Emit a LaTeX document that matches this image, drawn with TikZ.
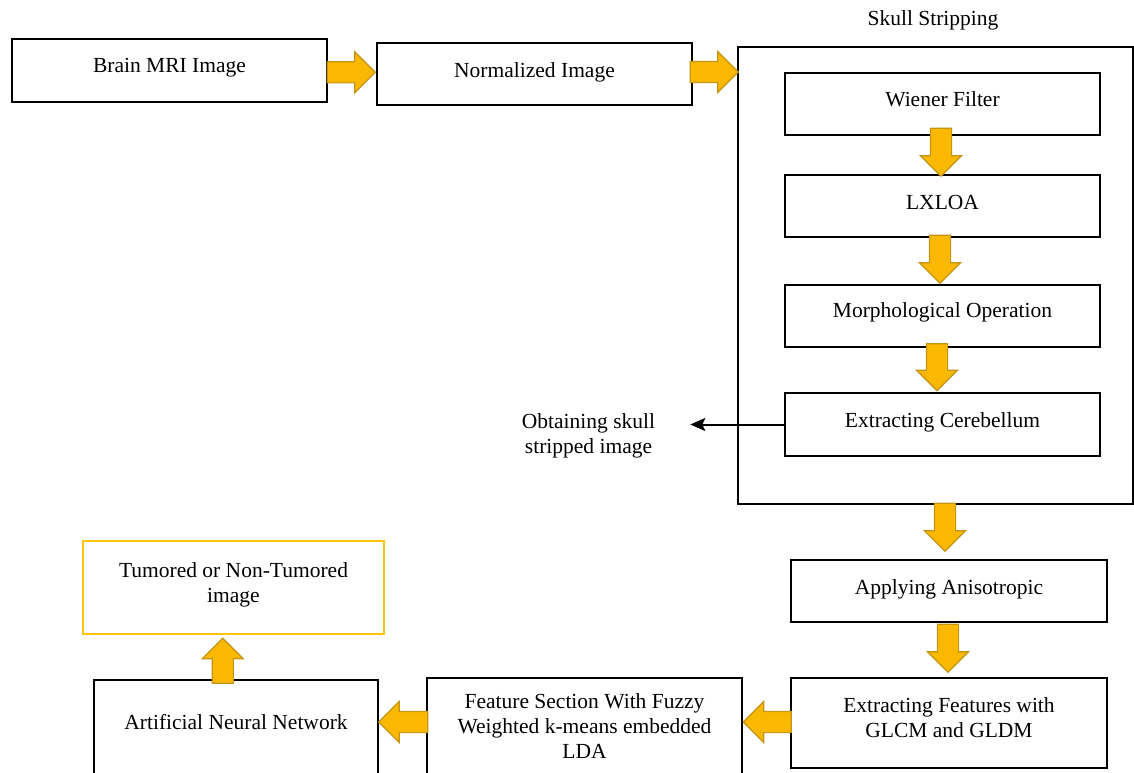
\documentclass[tikz,border=0pt]{standalone}
\usepackage{fontspec}
\setmainfont{Liberation Serif}
\usetikzlibrary{shapes.arrows,calc,arrows.meta}
\definecolor{arrfill}{RGB}{250,185,0}
\definecolor{arrdraw}{RGB}{196,148,20}
\definecolor{outbox}{RGB}{255,195,10}
\begin{document}
\begin{tikzpicture}[x=1pt,y=-1pt,
  box/.style={draw=black, line width=2.2pt, inner sep=0pt, fill=white},
  lbl/.style={font=\fontsize{21.5}{25}\selectfont, align=center, inner sep=0pt},
  lblone/.style={lbl, text height=15pt, text depth=5pt},
  barrow/.style={single arrow, draw=arrdraw, fill=arrfill, line width=1.2pt,
    minimum width=40pt, single arrow head extend=10pt, single arrow tip angle=90,
    single arrow head indent=0pt, inner xsep=0pt, inner ysep=10pt, minimum height=#1},
  barrow/.default=48pt,
  thinarrow/.style={draw=black, line width=2pt, -{Stealth[length=15pt,width=13pt,inset=3pt]}}]
\useasboundingbox (0,0) rectangle (1134,772);
\clip (0,0) rectangle (1134,772);

% boxes
\node[box, minimum width=315pt, minimum height=63pt] (bm) at (169.5,70.5) {};
\node[box, minimum width=315pt, minimum height=62pt] (nm) at (534.5,74) {};
\node[box, minimum width=395pt, minimum height=457pt] (ss) at (935.5,275.5) {};
\node[box, minimum width=315pt, minimum height=62pt] (wf) at (942.5,104) {};
\node[box, minimum width=315pt, minimum height=62pt] (lx) at (942.5,206) {};
\node[box, minimum width=315pt, minimum height=62pt] (mo) at (942.5,316) {};
\node[box, minimum width=315pt, minimum height=63pt] (ec) at (942.5,424.5) {};
\node[box, minimum width=316pt, minimum height=62pt] (ap) at (949,591) {};
\node[box, minimum width=316pt, minimum height=90pt] (ef) at (949,723) {};
\node[box, minimum width=315pt, minimum height=98pt] (fs) at (584.5,727) {};
\node[box, minimum width=284pt, minimum height=96pt] (ann) at (236,728) {};
\node[box, draw=outbox, minimum width=301pt, minimum height=93pt] (out) at (233.5,587.5) {};

% texts
\node[lblone] (bmt) at ([yshift=3.5pt]bm.center) {Brain MRI Image};
\node[lblone] (nmt) at ([yshift=2pt]nm.center) {Normalized Image};
\node[lblone] (sst) at (933,20) {Skull Stripping};
\node[lblone] (wft) at ([yshift=3pt]wf.center) {Wiener Filter};
\node[lblone] (lxt) at ([yshift=2pt]lx.center) {LXLOA};
\node[lblone] (mot) at ([yshift=4pt]mo.center) {Morphological Operation};
\node[lblone] (ect) at ([yshift=2.5pt]ec.center) {Extracting Cerebellum};
\node[lblone] (apt) at ([yshift=2pt]ap.center) {Applying Anisotropic};
\node[lbl] (eft) at ([yshift=5.5pt]ef.center) {Extracting Features with\\GLCM and GLDM};
\node[lbl] (fst) at ([yshift=0.5pt]fs.center) {Feature Section With Fuzzy\\Weighted k-means embedded\\LDA};
\node[lblone] (annt) at ([yshift=4pt]ann.center) {Artificial Neural Network};
\node[lbl] (outt) at ([yshift=2.7pt]out.center) {Tumored or Non-Tumored\\image};
\node[lbl] (ob) at (588.5,436) {Obtaining skull\\stripped image};

% block arrows
\node[barrow] (a1) at ([xshift=-6pt]$(bm.east)!0.5!(nm.west)$) {};
\node[barrow] (a2) at ([xshift=-6pt,yshift=2pt]$(nm.east)!0.5!(nm.east -| ss.west)$) {};
\node[barrow, rotate=-90] (a3) at ([xshift=-1.5pt,yshift=8pt]$(wf.south)!0.5!(lx.north)$) {};
\node[barrow, rotate=-90] (a4) at ([xshift=-2.5pt,yshift=7pt]$(lx.south)!0.5!(mo.north)$) {};
\node[barrow=47pt, rotate=-90] (a5) at ([xshift=-5.5pt,yshift=8pt]$(mo.south)!0.5!(ec.north)$) {};
\node[barrow, rotate=-90] (a6) at ([xshift=-4pt,yshift=10pt]$(ap.north |- ss.south)!0.5!(ap.north)$) {};
\node[barrow, rotate=-90] (a7) at ([xshift=-1pt,yshift=7pt]$(ap.south)!0.5!(ef.north)$) {};
\node[barrow, rotate=180] (a8) at ([xshift=6pt,yshift=3pt]$(ef.west)!0.5!(fs.east)$) {};
\node[barrow=49pt, rotate=180] (a9) at ([xshift=6pt,yshift=5.5pt]$(fs.west)!0.5!(ann.east)$) {};
\node[barrow=45pt, rotate=90] (a10) at ([xshift=-12pt,yshift=-9pt]$(ann.north)!0.5!(out.south)$) {};

% thin arrow
\draw[thinarrow, shorten >=35pt] (ec.west) -- (ec.west -| ob.east);
\end{tikzpicture}
\end{document}
